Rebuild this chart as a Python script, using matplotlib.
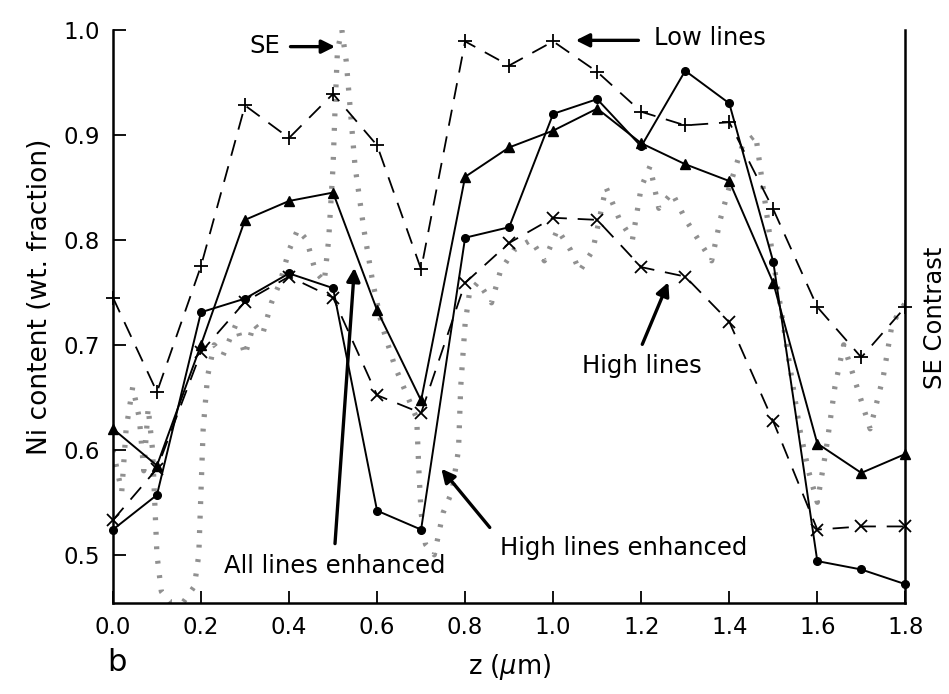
import matplotlib
matplotlib.use("Agg")
import matplotlib.pyplot as plt

z = [0.0, 0.1, 0.2, 0.3, 0.4, 0.5, 0.6, 0.7, 0.8, 0.9, 1.0, 1.1, 1.2, 1.3, 1.4, 1.5, 1.6, 1.7, 1.8]

all_enh = [0.524, 0.557, 0.731, 0.744, 0.768, 0.754, 0.542, 0.524, 0.802, 0.812, 0.920, 0.934, 0.889,
           0.961, 0.930, 0.779, 0.494, 0.486, 0.472]
high_enh = [0.620, 0.585, 0.700, 0.819, 0.837, 0.845, 0.733, 0.647, 0.860, 0.888, 0.904, 0.925, 0.892,
            0.872, 0.856, 0.759, 0.606, 0.578, 0.596]
low_lines = [0.745, 0.655, 0.775, 0.928, 0.897, 0.939, 0.890, 0.772, 0.989, 0.966, 0.989, 0.960, 0.922,
             0.909, 0.912, 0.829, 0.736, 0.688, 0.736]
high_lines = [0.533, 0.582, 0.693, 0.741, 0.765, 0.745, 0.652, 0.635, 0.759, 0.797, 0.821, 0.819, 0.774,
              0.765, 0.722, 0.627, 0.524, 0.527, 0.527]

se_z = [0.00, 0.02, 0.03, 0.045, 0.06, 0.07, 0.08, 0.09, 0.095, 0.10, 0.11, 0.13, 0.16, 0.185, 0.195,
        0.20, 0.205, 0.215, 0.23, 0.25, 0.28, 0.30, 0.32, 0.34, 0.36, 0.38, 0.40, 0.42, 0.44, 0.46,
        0.48, 0.49, 0.50, 0.505, 0.51, 0.52, 0.53, 0.54, 0.55, 0.57, 0.59, 0.61, 0.64, 0.67, 0.69,
        0.695, 0.70, 0.71, 0.73, 0.75, 0.77, 0.785, 0.79, 0.80, 0.81, 0.83, 0.86, 0.88, 0.91, 0.95,
        0.98, 1.01, 1.04, 1.06, 1.09, 1.12, 1.15, 1.18, 1.20, 1.22, 1.24, 1.27, 1.30, 1.33, 1.36,
        1.38, 1.40, 1.43, 1.46, 1.48, 1.50, 1.53, 1.56, 1.58, 1.60, 1.62, 1.64, 1.66, 1.69, 1.72,
        1.75, 1.77, 1.80]
se_val = [0.60, 0.56, 0.62, 0.66, 0.63, 0.58, 0.64, 0.60, 0.55, 0.50, 0.465, 0.455, 0.455, 0.47, 0.50,
          0.56, 0.62, 0.67, 0.70, 0.69, 0.72, 0.69, 0.72, 0.71, 0.74, 0.76, 0.79, 0.81, 0.80, 0.77,
          0.76, 0.80, 0.87, 0.93, 0.98, 1.00, 0.97, 0.92, 0.87, 0.81, 0.76, 0.72, 0.68, 0.65, 0.63,
          0.58, 0.54, 0.51, 0.50, 0.54, 0.56, 0.60, 0.66, 0.72, 0.75, 0.76, 0.74, 0.77, 0.79, 0.80,
          0.78, 0.81, 0.79, 0.77, 0.79, 0.85, 0.82, 0.80, 0.85, 0.87, 0.83, 0.845, 0.82, 0.80, 0.78,
          0.82, 0.85, 0.89, 0.90, 0.84, 0.78, 0.70, 0.62, 0.58, 0.55, 0.60, 0.66, 0.70, 0.66, 0.62,
          0.67, 0.72, 0.74]

xticks = [0.0, 0.2, 0.4, 0.6, 0.8, 1.0, 1.2, 1.4, 1.6, 1.8]
yticks = [0.5, 0.6, 0.7, 0.8, 0.9, 1.0]

plt.rcParams['font.family'] = ['DejaVu Sans']
fig = plt.figure(figsize=(9.49, 6.94), dpi=100)
ax = fig.add_axes([0.119, 0.131, 0.835, 0.826])

ax.plot(se_z, se_val, color='#909090', lw=3.8, linestyle=(0, (0.55, 2.2)), zorder=1)

ax.plot(z, all_enh, color='black', lw=1.4, marker='o', ms=5.5, zorder=3, clip_on=False)
ax.plot(z, high_enh, color='black', lw=1.4, marker='^', ms=7, zorder=3, clip_on=False)
ax.plot(z, low_lines, color='black', lw=1.3, marker='+', ms=10, mew=1.3,
        linestyle=(0, (9, 6)), zorder=2, clip_on=False)
ax.plot(z, high_lines, color='black', lw=1.3, marker='x', ms=9, mew=1.3,
        linestyle=(0, (9, 6)), zorder=2, clip_on=False)

ax.set_xlim(0.0, 1.8)
ax.set_ylim(0.454, 1.0)
ax.set_xticks(xticks)
ax.set_xticklabels([f"{t:.1f}" for t in xticks])
ax.set_yticks(yticks)
ax.set_yticklabels([f"{t:.1f}" for t in yticks])
ax.tick_params(direction='in', length=9, width=1.3, labelsize=16.5, pad=9.5)
ax.spines['top'].set_visible(False)
for s in ['left', 'bottom', 'right']:
    ax.spines[s].set_linewidth(1.8)

ax.set_xlabel("z ($\\mu$m)", fontsize=18.5, labelpad=9)
ax.set_ylabel("Ni content (wt. fraction)", fontsize=19)
ax.yaxis.set_label_coords(-0.076, 0.535)
fig.text(0.985, 0.542, "SE Contrast", rotation=90, fontsize=17.5, ha='center', va='center')
fig.text(0.113, 0.045, "b", fontsize=22, ha='left', va='center')

arrow = dict(arrowstyle='-|>', color='black', lw=2.4, mutation_scale=20)
tsize = 17.5
ax.annotate("", xy=(0.511, 0.984), xytext=(0.397, 0.984), arrowprops=arrow)
ax.text(0.345, 0.985, "SE", fontsize=tsize, ha='center', va='center')
ax.annotate("", xy=(1.045, 0.99), xytext=(1.2, 0.99), arrowprops=arrow)
ax.text(1.355, 0.992, "Low lines", fontsize=tsize, ha='center', va='center')
ax.annotate("", xy=(1.264, 0.762), xytext=(1.2, 0.698), arrowprops=arrow)
ax.text(1.201, 0.68, "High lines", fontsize=tsize, ha='center', va='center')
ax.annotate("", xy=(0.742, 0.584), xytext=(0.86, 0.524), arrowprops=arrow)
ax.text(1.16, 0.506, "High lines enhanced", fontsize=tsize, ha='center', va='center')
ax.annotate("", xy=(0.549, 0.776), xytext=(0.504, 0.508), arrowprops=arrow)
ax.text(0.504, 0.489, "All lines enhanced", fontsize=tsize, ha='center', va='center')

fig.savefig("out.png", dpi=100)
